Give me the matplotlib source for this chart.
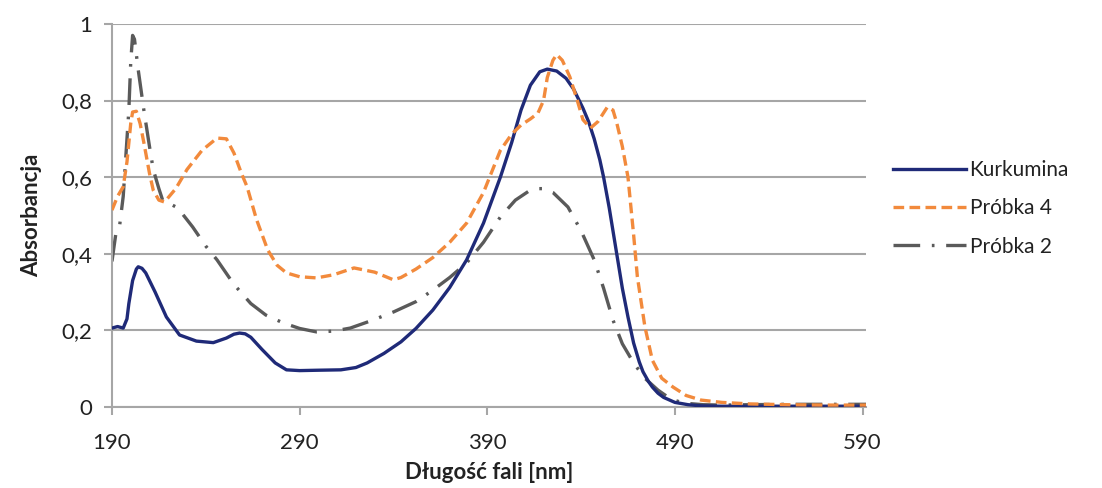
import matplotlib
matplotlib.use("Agg")
import matplotlib.pyplot as plt
from matplotlib.ticker import FixedLocator, FuncFormatter

plt.rcParams['font.family'] = ['Lato', 'DejaVu Sans']

# Kurkumina
kurk_x = [190, 193, 196, 198, 199, 201, 203, 204, 206, 208, 213, 219, 226, 235, 244, 251, 255, 258, 261, 264, 270, 277, 283, 290, 300, 312, 320, 326, 335, 344,
          352, 361, 370, 379, 388, 397, 403, 408, 413, 418, 422, 427, 432, 436, 441, 444, 447, 450, 452, 455, 457, 460, 462, 465, 468, 471, 473, 476, 478, 481, 484, 490, 497, 504,
          515, 530, 550, 570, 592]
kurk_y = [0.206, 0.210, 0.206, 0.230, 0.270, 0.330, 0.360, 0.366, 0.362, 0.350, 0.300, 0.235, 0.188, 0.172, 0.168, 0.180, 0.190, 0.193, 0.191, 0.182, 0.150, 0.115, 0.097, 0.095, 0.096, 0.097, 0.103, 0.115, 0.140, 0.170,
          0.205, 0.253, 0.312, 0.384, 0.480, 0.600, 0.690, 0.775, 0.840, 0.875, 0.882, 0.877, 0.858, 0.830, 0.780, 0.745, 0.700, 0.645, 0.600, 0.520, 0.460, 0.370, 0.310, 0.235, 0.167, 0.118, 0.092, 0.066, 0.052, 0.036, 0.025, 0.012, 0.006, 0.003,
          0.002, 0.002, 0.002, 0.002, 0.002]

# Próbka 4
p4_x = [190, 193, 196, 198, 200, 201, 203, 205, 207, 210, 212, 215, 218, 224, 230, 238, 246, 251, 255, 259, 262, 267, 273, 278, 283, 290, 299, 308, 319, 330, 340,
        344, 352, 361, 370, 379, 388, 397, 403, 408, 413, 417, 420, 422, 425, 427, 430, 434, 438, 441, 445, 449, 454, 457, 459, 462, 465, 468, 470, 474, 478, 483, 489, 496, 504,
        515, 530, 550, 570, 592]
p4_y = [0.514, 0.550, 0.575, 0.640, 0.740, 0.770, 0.772, 0.740, 0.690, 0.610, 0.566, 0.540, 0.535, 0.570, 0.620, 0.670, 0.702, 0.700, 0.663, 0.610, 0.575, 0.490, 0.410, 0.370, 0.350, 0.340, 0.337, 0.345, 0.363, 0.352, 0.332,
        0.338, 0.360, 0.390, 0.430, 0.480, 0.560, 0.670, 0.712, 0.736, 0.752, 0.767, 0.800, 0.860, 0.905, 0.920, 0.905, 0.862, 0.800, 0.750, 0.728, 0.745, 0.783, 0.775, 0.742, 0.680, 0.600, 0.450, 0.340, 0.210, 0.122, 0.075, 0.052, 0.030, 0.018,
        0.012, 0.008, 0.006, 0.005, 0.005]

# Próbka 2
p2_x = [190, 192, 194, 196, 198, 199, 200, 201, 202, 204, 207, 210, 212, 215, 217, 221, 225, 233, 240, 246, 255, 264, 272, 281, 290, 299, 308, 317, 328, 340,
        352, 361, 370, 379, 388, 397, 405, 412, 417, 420, 425, 433, 440, 447, 452, 457, 462, 468, 474, 481, 488, 495, 505,
        515, 530, 550, 570, 592]
p2_y = [0.380, 0.450, 0.470, 0.550, 0.700, 0.775, 0.900, 0.970, 0.960, 0.880, 0.775, 0.680, 0.620, 0.570, 0.540, 0.530, 0.520, 0.470, 0.420, 0.384, 0.320, 0.270, 0.240, 0.220, 0.205, 0.196, 0.198, 0.206, 0.225, 0.248,
        0.275, 0.305, 0.338, 0.376, 0.430, 0.496, 0.540, 0.563, 0.570, 0.570, 0.560, 0.522, 0.460, 0.384, 0.310, 0.227, 0.165, 0.115, 0.075, 0.044, 0.020, 0.010, 0.006,
        0.005, 0.006, 0.007, 0.007, 0.007]

series_names = ["Kurkumina", "Próbka 4", "Próbka 2"]
x_ticks = [190, 290, 390, 490, 590]
y_ticks = [0, 0.2, 0.4, 0.6, 0.8, 1.0]

fig = plt.figure(figsize=(11.02, 4.88), dpi=100)
ax = fig.add_axes([0.1016, 0.166, 0.6845, 0.785])

ax.plot(kurk_x, kurk_y, color="#1f2a78", lw=2.4, label=series_names[0], zorder=3)
ax.plot(p4_x, p4_y, color="#f28a3c", lw=2.4, dashes=(3.2, 1.6), label=series_names[1], zorder=4)
ax.plot(p2_x, p2_y, color="#5a5a5a", lw=2.4, dashes=(8.0, 3.5, 0.8, 3.5), label=series_names[2], zorder=2)

ax.set_xlim(190, 592)
ax.set_ylim(0, 1.0)
ax.xaxis.set_major_locator(FixedLocator(x_ticks))
ax.yaxis.set_major_locator(FixedLocator(y_ticks))
ax.yaxis.set_major_formatter(FuncFormatter(lambda v, p: "0" if v == 0 else ("1" if v == 1 else f"{v:.1f}".replace(".", ","))))
ax.grid(axis="y", color="#a6a6a6", lw=1.5, zorder=0)
ax.set_axisbelow(True)
for s in ["top", "right"]:
    ax.spines[s].set_visible(False)
for s in ["left", "bottom"]:
    ax.spines[s].set_color("#a6a6a6")
    ax.spines[s].set_linewidth(1.5)
ax.tick_params(axis="both", colors="#a6a6a6", labelcolor="#222222", labelsize=16, length=6, width=1.5, direction="out")
ax.tick_params(axis="y", pad=8)
ax.tick_params(axis="x", pad=13)

ax.set_xlabel("Długość fali [nm]", fontsize=16, fontweight="bold", color="#222222", labelpad=6)
ax.set_ylabel("Absorbancja", fontsize=16, fontweight="bold", color="#222222", labelpad=14)

leg = ax.legend(loc="center left", bbox_to_anchor=(1.025, 0.519), frameon=False, fontsize=15,
                handlelength=3.5, handletextpad=0.15, labelspacing=0.88, borderaxespad=0)
for t in leg.get_texts():
    t.set_color("#222222")

fig.savefig("out.png", dpi=100)
